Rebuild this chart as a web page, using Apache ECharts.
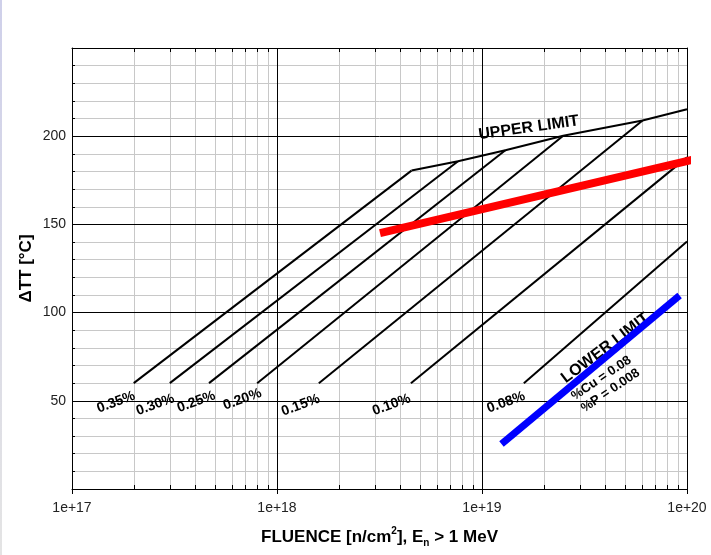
<!DOCTYPE html>
<html><head><meta charset="utf-8">
<script src="https://cdn.jsdelivr.net/npm/echarts@6/dist/echarts.min.js"></script>
<style>html,body{margin:0;padding:0;background:#fff}#c{width:711px;height:555px}</style>
</head><body><div id="c"></div>
<script>
// ---- axis ticks ----
const decades = [1e17, 1e18, 1e19, 1e20];
const decadeLabels = ['1e+17', '1e+18', '1e+19', '1e+20'];
const minorMultipliers = [2, 3, 4, 5, 6, 7, 8, 9];
const yMin = 0, yMax = 250, yStep = 50;

// ---- copper-content trend lines (start, end) ----
const copperLevels = ['0.35%', '0.30%', '0.25%', '0.20%', '0.15%', '0.10%', '0.08%'];
const copperStart = [[2e17, 60], [3e17, 60], [4.66e17, 60], [8e17, 60], [1.6e18, 60], [4.5e18, 60], [1.6e19, 60]];
const copperEnd = [[4.53e18, 180.5], [7.64e18, 185.8], [1.3e19, 192], [2.49e19, 200.3], [6.07e19, 208.9], [1e20, 188], [1e20, 140.3]];
const copperLabelPos = [[1.64e17, 49.2], [2.55e17, 47.7], [4.04e17, 49.4], [6.78e17, 50.8], [1.305e18, 47.5], [3.62e18, 47.7], [1.31e19, 49.1]];

// ---- limits ----
const upperLimit = [[4.53e18, 180.5], [7.64e18, 185.8], [1.3e19, 192], [2.49e19, 200.3], [6.07e19, 208.9], [1e20, 215.3]];
const redLine = [[3.18e18, 145.1], [1.11e20, 187.1]];
const lowerLimit = [[1.245e19, 25.5], [9.2e19, 109.7]];

// ---- annotations ----
const upperLabel = { text: 'UPPER LIMIT', pos: [1.69e19, 204.7] };
const lowerLabel = { text: 'LOWER LIMIT', pos: [4.0e19, 79.9] };
const compLabels = ['%Cu = 0.08', '%P = 0.008'];
const compLabelPos = [[3.82e19, 62.8], [4.23e19, 55.8]];

const FONT = '"Liberation Sans", Arial, Helvetica, sans-serif';
const xMinorTicks = decades.slice(0, 3).flatMap(d => minorMultipliers.map(m => m * d));

function xLabel(v) {
  for (let i = 0; i < decades.length; i++) {
    if (Math.abs(Math.log10(v) - Math.log10(decades[i])) < 1e-6) return decadeLabels[i];
  }
  return '';
}

const chart = echarts.init(document.getElementById('c'), null, { renderer: 'canvas' });

const series = [];
// minor vertical grid lines + minor ticks on bottom/top
series.push({
  type: 'custom', xAxisIndex: 0, yAxisIndex: 0, z: -1, silent: true, clip: false,
  data: xMinorTicks.map(v => [v, yMin]),
  encode: { x: 0, y: 1 },
  renderItem: function (params, api) {
    const v = api.value(0);
    const b = api.coord([v, yMin]);
    const t = api.coord([v, yMax]);
    const x = Math.round(b[0]) + 0.5;
    return {
      type: 'group', children: [
        { type: 'line', shape: { x1: x, y1: b[1], x2: x, y2: t[1] }, style: { stroke: '#c8c8c8', lineWidth: 1 } },
        { type: 'line', shape: { x1: x, y1: b[1], x2: x, y2: b[1] - 4 }, style: { stroke: '#000', lineWidth: 1 } },
        { type: 'line', shape: { x1: x, y1: t[1], x2: x, y2: t[1] + 4 }, style: { stroke: '#000', lineWidth: 1 } }
      ]
    };
  }
});

copperLevels.forEach((lvl, i) => {
  series.push({
    name: lvl, type: 'line', z: 3, symbol: 'none', silent: true,
    data: [copperStart[i], copperEnd[i]],
    lineStyle: { color: '#000', width: 2 }
  });
});
series.push({
  name: 'UPPER LIMIT', type: 'line', z: 3, symbol: 'none', silent: true,
  data: upperLimit, lineStyle: { color: '#000', width: 2 }
});

// annotation labels (text placed through the axes' scales)
const labelData = [];
copperLevels.forEach((lvl, i) => labelData.push([copperLabelPos[i][0], copperLabelPos[i][1], lvl, 20, 'bold 14px ' + FONT]));
labelData.push([upperLabel.pos[0], upperLabel.pos[1], upperLabel.text, 8, 'bold 16px ' + FONT]);
labelData.push([lowerLabel.pos[0], lowerLabel.pos[1], lowerLabel.text, 37, 'bold 16px ' + FONT]);
compLabels.forEach((t, i) => labelData.push([compLabelPos[i][0], compLabelPos[i][1], t, 34, 'bold 13px ' + FONT]));
series.push({
  type: 'custom', xAxisIndex: 0, yAxisIndex: 0, z: 3, silent: true, clip: false,
  data: labelData,
  dimensions: ['x', 'y', 'text', 'rot', 'font'],
  encode: { x: 0, y: 1 },
  renderItem: function (params, api) {
    const d = labelData[params.dataIndex];
    const p = api.coord([d[0], d[1]]);
    return {
      type: 'text', x: p[0], y: p[1], rotation: d[3] * Math.PI / 180,
      style: { text: d[2], font: d[4], fill: '#000', align: 'center', verticalAlign: 'middle' }
    };
  }
});

series.push({
  name: 'red', type: 'line', z: 5, symbol: 'none', silent: true, clip: false,
  data: redLine, lineStyle: { color: '#ff0000', width: 8, cap: 'butt' }
});
series.push({
  name: 'LOWER LIMIT', type: 'line', z: 5, symbol: 'none', silent: true, clip: false,
  data: lowerLimit, lineStyle: { color: '#0000ff', width: 7, cap: 'butt' }
});

const option = {
  animation: false,
  backgroundColor: '#ffffff',
  textStyle: { fontFamily: FONT },
  grid: { left: 72, right: 24, top: 48, bottom: 66, containLabel: false, outerBoundsMode: 'none' },
  xAxis: [{
    type: 'log', logBase: 10, min: decades[0], max: decades[decades.length - 1], position: 'bottom',
    axisLine: { show: true, onZero: false, lineStyle: { color: '#000', width: 1 } },
    axisTick: { show: true, inside: false, length: 5, lineStyle: { color: '#000', width: 1 } },
    minorTick: { show: false }, minorSplitLine: { show: false },
    splitLine: { show: true, lineStyle: { color: '#000', width: 1 } },
    axisLabel: { show: true, margin: 12, fontSize: 14, color: '#222', fontFamily: FONT, formatter: xLabel, showMinLabel: true, showMaxLabel: true },
    name: 'FLUENCE [n/cm{sup|2}], E{sub|n} > 1 MeV',
    nameLocation: 'middle', nameGap: 37, nameMoveOverlap: false,
    nameTextStyle: {
      fontSize: 17, fontWeight: 'bold', color: '#000', fontFamily: FONT, lineHeight: 22,
      rich: {
        sup: { fontSize: 10, fontWeight: 'bold', color: '#000', fontFamily: FONT, verticalAlign: 'top', lineHeight: 12 },
        sub: { fontSize: 10, fontWeight: 'bold', color: '#000', fontFamily: FONT, verticalAlign: 'bottom', lineHeight: 12 }
      }
    }
  }, {
    type: 'log', logBase: 10, min: decades[0], max: decades[decades.length - 1], position: 'top',
    axisLine: { show: true, onZero: false, lineStyle: { color: '#000', width: 1 } },
    axisTick: { show: false }, axisLabel: { show: false }, splitLine: { show: false }
  }],
  yAxis: [{
    type: 'value', min: yMin, max: yMax, interval: yStep,
    axisLine: { show: true, onZero: false, lineStyle: { color: '#000', width: 1 } },
    axisTick: { show: true, inside: true, length: 4, lineStyle: { color: '#000' } },
    minorTick: { show: true, splitNumber: 5, length: 3, lineStyle: { color: '#000' } },
    splitLine: { show: true, lineStyle: { color: '#000', width: 1 } },
    minorSplitLine: { show: true, lineStyle: { color: '#c8c8c8', width: 1 } },
    axisLabel: { margin: 6, fontSize: 14, color: '#222', fontFamily: FONT, showMinLabel: false, showMaxLabel: false },
    name: 'ΔTT [°C]', nameLocation: 'middle', nameRotate: 90, nameGap: 37, nameMoveOverlap: false,
    nameTextStyle: { fontSize: 17, fontWeight: 'bold', color: '#000', fontFamily: FONT }
  }, {
    type: 'value', min: yMin, max: yMax, interval: yStep, position: 'right',
    axisLine: { show: true, onZero: false, lineStyle: { color: '#000', width: 1 } },
    axisTick: { show: false }, axisLabel: { show: false }, splitLine: { show: false }
  }],
  graphic: [{
    type: 'rect', left: 0, top: 0, z: 100, silent: true,
    shape: { width: 2, height: 555 },
    style: { fill: new echarts.graphic.LinearGradient(0, 0, 0, 1, [{ offset: 0, color: '#cfd0ea' }, { offset: 1, color: '#e4e4e4' }]) }
  }],
  series: series
};
chart.setOption(option);
</script>
</body></html>
